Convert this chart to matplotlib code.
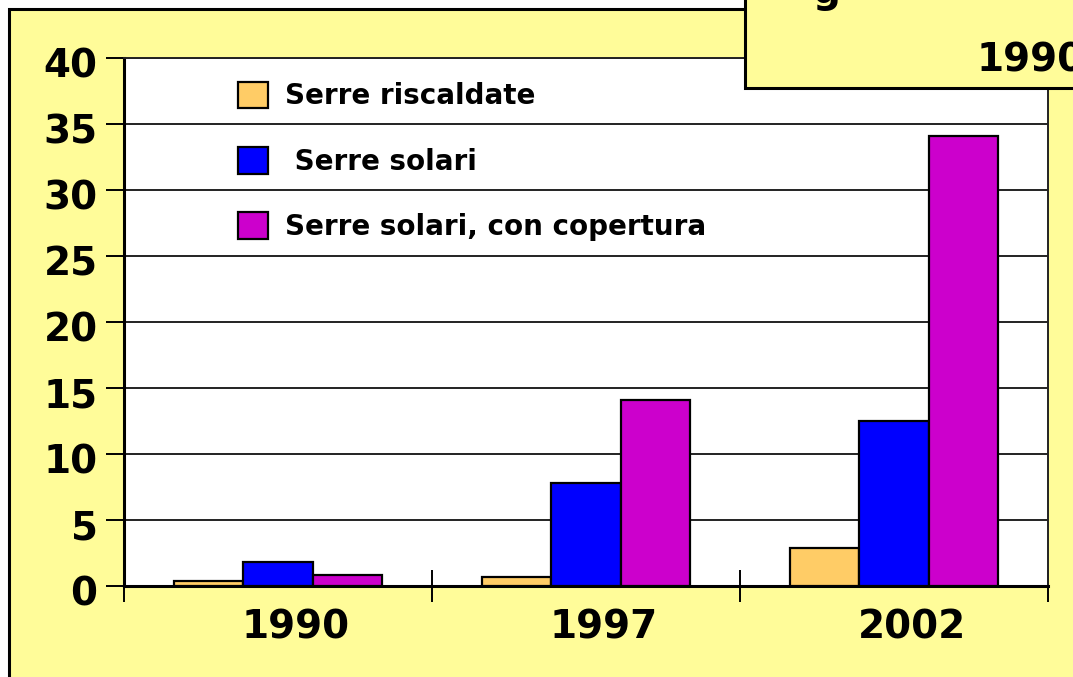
import matplotlib
matplotlib.use("Agg")
import matplotlib.pyplot as plt
import matplotlib.transforms as mtransforms
from matplotlib.patches import Rectangle
import numpy as np

categories = ["1990", "1997", "2002"]
series_names = ["Serre riscaldate", " Serre solari", "Serre solari, con copertura"]
serre_riscaldate = [0.4, 0.7, 2.9]
serre_solari = [1.8, 7.8, 12.5]
serre_copertura = [0.8, 14.1, 34.1]
y_ticks = [0, 5, 10, 15, 20, 25, 30, 35, 40]
colors = ["#FFCC66", "#0000FF", "#CC00CC"]

W, H = 1073, 677
fig = plt.figure(figsize=(W / 100, H / 100), dpi=100, facecolor="white")
yellow = "#FFFC99"

def fx(px):
    return px / W

def fy(py):
    return 1 - py / H

# outer yellow panel (background)
fig.patches.append(Rectangle((fx(9), fy(700)), fx(1100 - 9), fy(9) - fy(700),
                             transform=fig.transFigure, facecolor=yellow,
                             edgecolor="black", linewidth=2.2, zorder=-10))

ax = fig.add_axes([fx(124), fy(586), fx(1048) - fx(124), fy(58) - fy(586)])
ax.set_zorder(5)
ax.set_facecolor("white")

x = np.arange(len(categories))
bw = 0.225
vals = [serre_riscaldate, serre_solari, serre_copertura]
for i, (v, c, n) in enumerate(zip(vals, colors, series_names)):
    ax.bar(x + (i - 1) * bw, v, width=bw, color=c, edgecolor="black",
           linewidth=1.6, label=n, zorder=3)

ax.set_xlim(-0.5, 2.5)
ax.set_ylim(0, 40)
ax.set_yticks(y_ticks)
ax.set_yticklabels([str(t) for t in y_ticks], fontsize=28, fontweight="bold")
ax.yaxis.grid(True, color="#222222", linewidth=1.4, zorder=1)
ax.set_axisbelow(True)
ax.tick_params(axis="y", direction="out", length=13, width=1.4, pad=6)

ax.set_xticks(x)
ax.set_xticklabels(categories, fontsize=28, fontweight="bold")
ax.tick_params(axis="x", which="major", length=0, pad=16)
ax.set_xticks([-0.5, 0.5, 1.5, 2.5], minor=True)
ax.tick_params(axis="x", which="minor", direction="inout", length=23, width=1.4)

dpi_tr = fig.dpi_scale_trans
for lab in ax.get_yticklabels():
    lab.set_transform(lab.get_transform() +
                      mtransforms.ScaledTranslation(0, -5 / 100, dpi_tr))
for lab in ax.get_xticklabels():
    lab.set_transform(lab.get_transform() +
                      mtransforms.ScaledTranslation(18 / 100, 0, dpi_tr))

for s in ["left", "bottom"]:
    ax.spines[s].set_linewidth(2.2)
    ax.spines[s].set_color("black")
ax.spines["top"].set_linewidth(1.4)
ax.spines["right"].set_linewidth(1.4)
ax.spines["top"].set_color("#222222")
ax.spines["right"].set_color("#222222")

leg = ax.legend(loc="upper left", bbox_to_anchor=(0.096, 1.0025), frameon=False,
                prop={"size": 20, "weight": "bold"}, handlelength=1.1,
                handleheight=1.1, labelspacing=1.31, handletextpad=0.6)

# top-right overlay box, drawn above the chart
box_ax = fig.add_axes([0, 0, 1, 1], facecolor="none")
box_ax.set_zorder(10)
box_ax.set_xlim(0, W)
box_ax.set_ylim(H, 0)
box_ax.axis("off")
box_ax.add_patch(Rectangle((745, -20), 400, 108, facecolor=yellow,
                           edgecolor="black", linewidth=2.2))
box_ax.text(977, 60, "1990", fontsize=28, fontweight="bold",
            ha="left", va="center", clip_on=False)
box_ax.text(826, -8, "g", fontsize=28, fontweight="bold",
            ha="center", va="center", clip_on=False)

fig.savefig("out.png", dpi=100, facecolor="white")
